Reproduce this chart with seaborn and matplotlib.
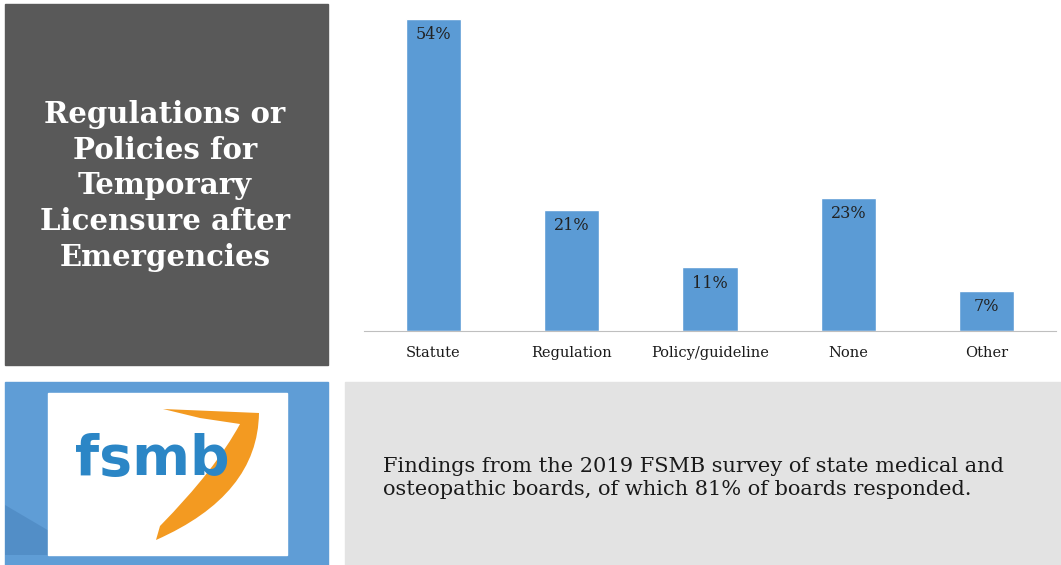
import numpy as np
import pandas as pd
import seaborn as sns
import matplotlib.pyplot as plt
from matplotlib.patches import Rectangle, PathPatch, Polygon
from matplotlib.path import Path

categories = ['Statute', 'Regulation', 'Policy/guideline', 'None', 'Other']
values = [54, 21, 11, 23, 7]

title_text = 'Regulations or\nPolicies for\nTemporary\nLicensure after\nEmergencies'
note_text = ('Findings from the 2019 FSMB survey of state medical and\n'
             'osteopathic boards, of which 81% of boards responded.')

df = pd.DataFrame({'category': categories, 'value': values})

W, H = 1061, 565
sns.set_style('white')
plt.rcParams['font.family'] = ['DejaVu Serif', 'DejaVu Sans']

fig = plt.figure(figsize=(W / 100, H / 100), dpi=100)

# background layer in pixel coords (y down)
bg = fig.add_axes([0, 0, 1, 1])
bg.set_xlim(0, W)
bg.set_ylim(H, 0)
bg.axis('off')

bg.add_patch(Rectangle((5, 4), 323, 361, color='#595959'))
bg.add_patch(Rectangle((5, 382), 323, 183, color='#5f9dd6'))
bg.add_patch(Rectangle((345, 382), 716, 183, color='#e3e3e3'))

# logo shadow + white card
bg.add_patch(Polygon([(48, 455), (48, 555), (90, 555), (5, 505), (5, 555), (48, 555)],
                     color='#4a84bd', alpha=0.6, lw=0))
bg.add_patch(Rectangle((48, 393), 239, 162, color='white'))

# orange shield
verts = [(163, 409), (259, 413), (258, 495), (156, 540),
         (160, 526), (215, 470), (240, 424), (200, 418), (163, 409)]
codes = [Path.MOVETO, Path.LINETO, Path.CURVE3, Path.CURVE3,
         Path.LINETO, Path.CURVE3, Path.CURVE3, Path.LINETO, Path.CLOSEPOLY]
bg.add_patch(PathPatch(Path(verts, codes), facecolor='#f39a21', edgecolor='none'))
bg.text(152, 460, 'fsmb', color='#2b86c6', fontsize=40, fontweight='bold',
        family='DejaVu Sans', ha='center', va='center')

bg.text(165, 186, title_text, color='white', fontsize=21, fontweight='bold',
        ha='center', va='center', linespacing=1.29)
bg.text(383, 478, note_text, color='#1a1a1a', fontsize=15,
        ha='left', va='center', linespacing=1.25)

# bar chart
ax_l, ax_r, ax_b, ax_t = 364, 1056, 331, 7
ax = fig.add_axes([ax_l / W, 1 - ax_b / H, (ax_r - ax_l) / W, (ax_b - ax_t) / H])
ax.patch.set_alpha(0)
sns.barplot(data=df, x='category', y='value', color='#5b9bd5', width=0.4,
            saturation=1, ax=ax)
ax.set_xlim(-0.5, len(categories) - 0.5)
ax.set_ylim(0, 56)
ax.set_xlabel('')
ax.set_ylabel('')
ax.set_yticks([])
for i, v in enumerate(values):
    ax.text(i, v - 1.3, f'{v}%', ha='center', va='top', fontsize=11.5, color='#222222')

ax.set_xticks(np.arange(-0.5, len(categories)), minor=True)
ax.tick_params(axis='x', which='major', length=0, pad=11, labelsize=10.5, labelcolor='#1a1a1a')
ax.tick_params(axis='x', which='minor', length=5, width=1, color='#bfbfbf', direction='out')
for s in ['top', 'right', 'left']:
    ax.spines[s].set_visible(False)
ax.spines['bottom'].set_color('#bfbfbf')

fig.savefig('out.png', dpi=100)
